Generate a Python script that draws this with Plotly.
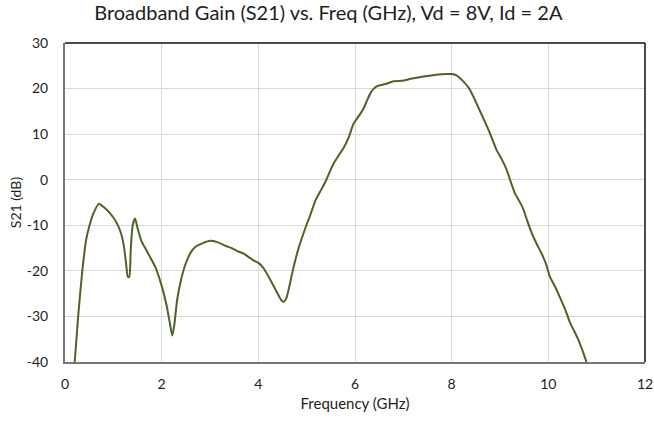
import plotly.graph_objects as go

freq = [0.20, 0.28, 0.36, 0.44, 0.50, 0.58, 0.70, 0.80, 0.91, 1.00, 1.08, 1.16, 1.22, 1.27, 1.30, 1.33,
        1.36, 1.40, 1.45, 1.50, 1.58, 1.70, 1.87, 2.00, 2.10, 2.17, 2.22, 2.26, 2.32, 2.40, 2.49, 2.60,
        2.70, 2.85, 3.01, 3.15, 3.32, 3.45, 3.60, 3.70, 3.80, 3.90, 4.01, 4.12, 4.28, 4.40, 4.48, 4.53,
        4.58, 4.64, 4.70, 4.83, 4.97, 5.08, 5.18, 5.28, 5.39, 5.48, 5.56, 5.66, 5.76, 5.87, 5.97, 6.08,
        6.18, 6.25, 6.32, 6.40, 6.47, 6.63, 6.80, 6.97, 7.18, 7.45, 7.73, 7.90, 8.00, 8.10, 8.21, 8.35,
        8.45, 8.55, 8.65, 8.76, 8.85, 8.93, 9.04, 9.14, 9.22, 9.31, 9.40, 9.48, 9.57, 9.66, 9.76, 9.86,
        9.95, 10.03, 10.14, 10.24, 10.35, 10.45, 10.54, 10.62, 10.70, 10.79]
s21 = [-40.0, -29.0, -19.8, -13.0, -10.3, -7.6, -5.3, -6.0, -7.1, -8.3, -9.7, -11.8, -14.7, -19.0, -21.3, -21.3,
       -15.5, -10.0, -8.5, -10.6, -13.4, -15.8, -19.2, -23.3, -27.5, -31.5, -34.2, -32.0, -26.4, -22.0, -18.6, -16.0,
       -14.7, -13.9, -13.4, -13.7, -14.5, -15.0, -15.8, -16.2, -17.0, -17.7, -18.3, -19.6, -22.6, -25.0, -26.5, -26.8,
       -26.0, -23.5, -20.5, -15.1, -10.7, -7.6, -4.6, -2.6, -0.4, 1.8, 3.6, 5.3, 6.9, 9.3, 12.3, 14.0,
       15.7, 17.4, 19.0, 20.1, 20.6, 21.0, 21.6, 21.7, 22.2, 22.7, 23.1, 23.2, 23.2, 22.9, 21.9, 20.2,
       18.2, 15.9, 13.6, 11.0, 8.6, 6.5, 4.4, 2.1, -0.4, -3.0, -4.7, -6.4, -9.2, -11.8, -14.1, -16.2,
       -18.4, -21.2, -23.5, -25.8, -28.5, -31.4, -33.3, -35.1, -37.3, -40.0]

x_ticks = [0, 2, 4, 6, 8, 10, 12]
y_ticks = [-40, -30, -20, -10, 0, 10, 20, 30]

FONT = "Lato, 'Open Sans', sans-serif"
TXT = "#1e1e1e"

fig = go.Figure()
fig.add_trace(go.Scatter(
    x=freq, y=s21, mode="lines",
    line=dict(color="#4F6228", width=2, shape="spline", smoothing=0.6),
    showlegend=False, hoverinfo="x+y",
))

fig.update_layout(
    width=654, height=421,
    margin=dict(l=65, r=9, t=43, b=59),
    paper_bgcolor="white", plot_bgcolor="white",
    font=dict(family=FONT, size=14, color=TXT),
    title=dict(text="Broadband Gain (S21) vs. Freq (GHz), Vd = 8V, Id = 2A",
               x=0.502, xanchor="center", y=0.969, yanchor="middle",
               font=dict(family=FONT, size=20, color=TXT)),
    xaxis=dict(range=[0, 12], tickvals=x_ticks, ticktext=[str(v) for v in x_ticks],
               showgrid=True, gridcolor="#d9d9d9", gridwidth=1,
               showline=True, linecolor="#767676", linewidth=2,
               zeroline=False, ticks="", ticklabelstandoff=8, automargin=False,
               tickfont=dict(size=14),
               title=dict(text="Frequency (GHz)", font=dict(size=15), standoff=8)),
    yaxis=dict(range=[-40, 30], tickvals=y_ticks, ticktext=[str(v) for v in y_ticks],
               showgrid=True, gridcolor="#d9d9d9", gridwidth=1,
               showline=True, linecolor="#767676", linewidth=2,
               zeroline=False, ticks="", ticklabelstandoff=12, automargin=False,
               tickfont=dict(size=14),
               title=dict(text="S21 (dB)", font=dict(size=14), standoff=2)),
    shapes=[
        dict(type="line", xref="paper", yref="paper", x0=0, x1=1, y0=1, y1=1,
             line=dict(color="#111111", width=1.5)),
        dict(type="line", xref="paper", yref="paper", x0=1, x1=1, y0=0, y1=1,
             line=dict(color="#111111", width=1.5)),
    ],
)

fig.write_html("out.html",
               config={"displayModeBar": False},
               post_script="document.body.style.margin='0px';document.body.style.overflow='hidden';")
